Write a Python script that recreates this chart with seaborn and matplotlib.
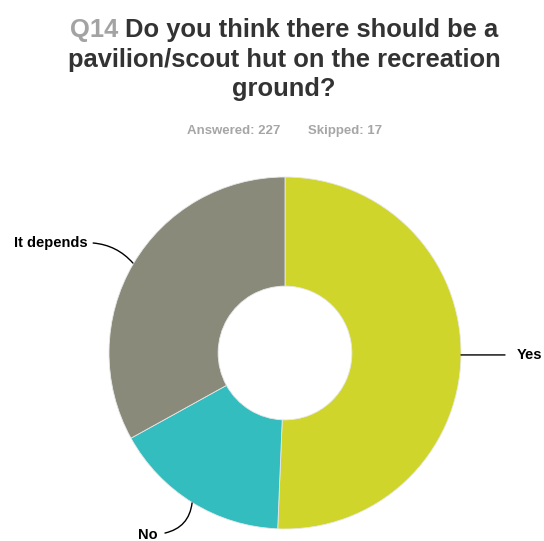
import matplotlib
matplotlib.use("Agg")
import matplotlib.pyplot as plt
import seaborn as sns

# survey answers (Q14)
answers = ["Yes", "No", "It depends"]
counts = [115, 37, 75]
answered = 227
skipped = 17
slice_colors = ["#cfd52b", "#33bdbe", "#898a7a"]

sns.set_theme(style="white")
plt.rcParams["font.family"] = ["Liberation Sans", "DejaVu Sans"]

W, H = 544, 541
fig = plt.figure(figsize=(W / 100, H / 100), dpi=100)
fig.patch.set_facecolor("white")

# pie centred at (285, 353) px, radius 176 px
cx, cy, r = 285, 353, 176
ax = fig.add_axes([(cx - r) / W, (H - cy - r) / H, 2 * r / W, 2 * r / H])
ax.pie(counts, colors=slice_colors, startangle=90, counterclock=False,
       wedgeprops=dict(width=0.62, edgecolor="#e8e8e8", linewidth=0.6))
ax.set_xlim(-1, 1)
ax.set_ylim(-1, 1)
ax.set_aspect("equal")
ax.axis("off")

lab = dict(fontsize=10.5, fontweight="bold", color="black")
line = dict(arrowstyle="-", color="black", lw=1.0, shrinkA=0, shrinkB=0)

ax.annotate("", xy=(1.0, -0.011), xytext=(1.25, -0.011),
            arrowprops=dict(line, connectionstyle="arc3,rad=0"))
ax.text(1.318, -0.011, answers[0], ha="left", va="center", **lab)

ax.annotate("", xy=(-0.864, 0.511), xytext=(-1.09, 0.625),
            arrowprops=dict(line, connectionstyle="arc3,rad=-0.2"))
ax.text(-1.12, 0.625, answers[2], ha="right", va="center", **lab)

ax.annotate("", xy=(-0.528, -0.852), xytext=(-0.682, -1.023),
            arrowprops=dict(line, connectionstyle="arc3,rad=0.35"))
ax.text(-0.778, -1.034, answers[1], ha="center", va="center", **lab)

# title, first line has grey question number
title_kw = dict(fontsize=18.4, fontweight="bold", va="baseline")
renderer = fig.canvas.get_renderer()
q = fig.text(0, 0, "Q14 ", color="#a3a3a3", **title_kw)
rest = fig.text(0, 0, "Do you think there should be a", color="#333333", **title_kw)
wq = q.get_window_extent(renderer).width
wr = rest.get_window_extent(renderer).width
left = 284 - (wq + wr) / 2
q.set_position((left / W, 1 - 37 / H))
rest.set_position(((left + wq) / W, 1 - 37 / H))
fig.text(284 / W, 1 - 67 / H, "pavilion/scout hut on the recreation",
         color="#333333", ha="center", **title_kw)
fig.text(284 / W, 1 - 96 / H, "ground?", color="#333333", ha="center", **title_kw)

sub_kw = dict(fontsize=9.5, fontweight="bold", color="#a6a6a6", va="baseline")
fig.text(187 / W, 1 - 134 / H, f"Answered: {answered}", ha="left", **sub_kw)
fig.text(382 / W, 1 - 134 / H, f"Skipped: {skipped}", ha="right", **sub_kw)

fig.savefig("out.png", dpi=100, facecolor="white")
